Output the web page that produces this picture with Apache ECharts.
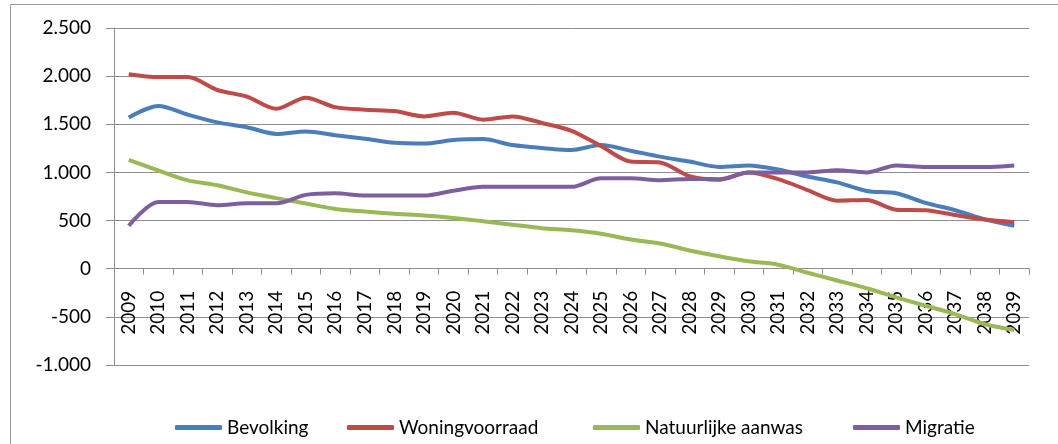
<!DOCTYPE html>
<html>
<head>
<meta charset="utf-8">
<script src="https://cdn.jsdelivr.net/npm/echarts@6/dist/echarts.min.js"></script>
<style>
  html, body { margin: 0; padding: 0; background: #fff; }
  #chart { width: 1058px; height: 444px; }
</style>
</head>
<body>
<div id="chart"></div>
<script>
// jaren op de x-as
var years = [];
for (var y = 2009; y <= 2039; y++) years.push(String(y));

var bevolking = [1570, 1690, 1600, 1520, 1470, 1400, 1425, 1387, 1350, 1308,
  1300, 1336, 1346, 1284, 1253, 1233, 1284, 1226, 1164, 1113,
  1057, 1073, 1030, 957, 897, 807, 783, 683, 607, 513, 447];
var woningvoorraad = [2020, 1990, 1990, 1856, 1788, 1661, 1775, 1678, 1651, 1637,
  1582, 1620, 1548, 1582, 1514, 1432, 1274, 1113, 1103, 960,
  925, 1000, 930, 817, 707, 713, 613, 607, 557, 510, 483];
var natuurlijkeAanwas = [1130, 1020, 918, 867, 793, 733, 677, 620, 593, 570,
  553, 527, 493, 457, 421, 400, 364, 304, 261, 190,
  129, 77, 42, -42, -122, -203, -297, -385, -472, -577, -636];
var migratie = [446, 693, 693, 660, 680, 680, 767, 783, 760, 760,
  760, 810, 850, 850, 850, 850, 940, 940, 920, 933,
  930, 1000, 1000, 1000, 1023, 1000, 1073, 1057, 1057, 1057, 1073];

var names = ['Bevolking', 'Woningvoorraad', 'Natuurlijke aanwas', 'Migratie'];
var colors = ['#4A7EBB', '#BE4B48', '#98B954', '#7D5FA0'];
var legendLeft = [175, 347, 593, 853];
var lineGrey = '#8E8E8E';
var font = 'Lato, "Open Sans", sans-serif';

var yMin = -1000, yMax = 2500;
var gridTop = 28, gridBottom = 79, chartH = 444;
// x-as ligt op de nullijn
var plotH = chartH - gridTop - gridBottom;
var zeroShift = -plotH * (0 - yMin) / (yMax - yMin);

function nlFormat(v) {
  var s = String(Math.abs(v)).replace(/\B(?=(\d{3})+(?!\d))/g, '.');
  return (v < 0 ? '-' : '') + s;
}

function makeSeries(name, data, color) {
  return {
    name: name,
    type: 'line',
    data: data,
    smooth: 0.3,
    symbol: 'none',
    lineStyle: { width: 4, color: color },
    itemStyle: { color: color }
  };
}

// losse legenda per reeks, zoals in het origineel
var legends = names.map(function (n, i) {
  return {
    data: [n],
    left: legendLeft[i],
    top: 418,
    padding: 0,
    icon: 'roundRect',
    itemWidth: 47,
    itemHeight: 5,
    textStyle: { fontFamily: font, fontSize: 19, color: '#000' }
  };
});

var chart = echarts.init(document.getElementById('chart'));
chart.setOption({
  animation: false,
  backgroundColor: '#fff',
  graphic: [{
    type: 'rect',
    shape: { x: 10.5, y: 4.5, width: 1100, height: 500 },
    style: { fill: 'none', stroke: '#9a9a9a', lineWidth: 1 },
    silent: true
  }],
  grid: { left: 114, right: 29, top: gridTop, bottom: gridBottom },
  legend: legends,
  xAxis: {
    type: 'category',
    data: years,
    boundaryGap: true,
    offset: zeroShift,
    axisLine: { onZero: false, lineStyle: { color: lineGrey, width: 1 } },
    axisTick: { show: true, interval: 0, length: 6, lineStyle: { color: lineGrey } },
    axisLabel: {
      interval: 0,
      rotate: 90,
      margin: 22,
      color: '#000',
      fontFamily: font,
      fontSize: 19
    }
  },
  yAxis: {
    type: 'value',
    min: yMin,
    max: yMax,
    interval: 500,
    axisLine: { show: true, lineStyle: { color: lineGrey, width: 1 } },
    axisTick: { show: true, length: 8, lineStyle: { color: lineGrey } },
    splitLine: { lineStyle: { color: lineGrey, width: 1 } },
    axisLabel: {
      margin: 23,
      color: '#000',
      fontFamily: font,
      fontSize: 19,
      formatter: nlFormat
    }
  },
  series: [
    makeSeries(names[0], bevolking, colors[0]),
    makeSeries(names[1], woningvoorraad, colors[1]),
    makeSeries(names[2], natuurlijkeAanwas, colors[2]),
    makeSeries(names[3], migratie, colors[3])
  ]
});
</script>
</body>
</html>
